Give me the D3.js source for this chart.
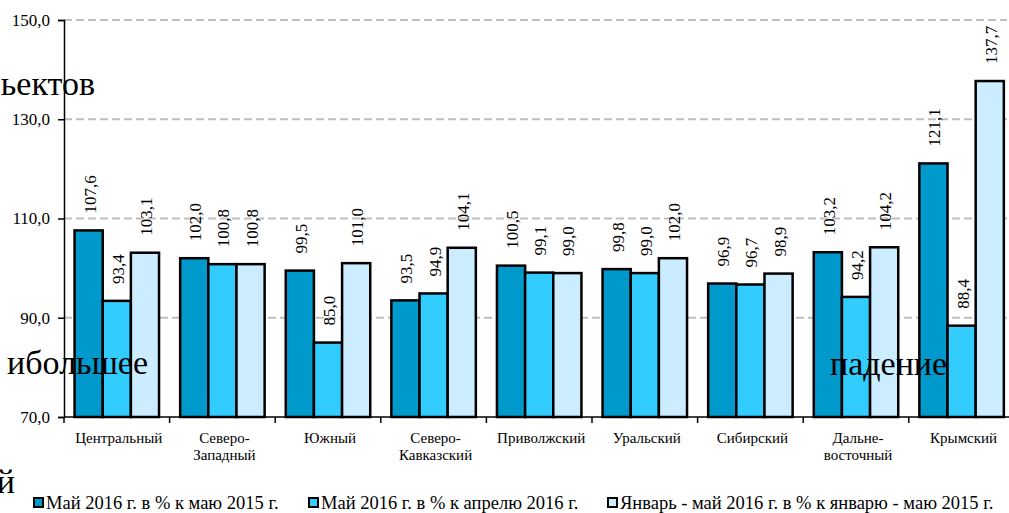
<!DOCTYPE html>
<html>
<head>
<meta charset="utf-8">
<script src="https://cdn.jsdelivr.net/npm/d3@7"></script>
<style>
  html, body { margin: 0; padding: 0; background: #fff; }
  svg { display: block; }
  text { font-family: "Liberation Serif", "Times New Roman", serif; fill: #000; }
</style>
</head>
<body>
<svg id="chart" width="1009" height="513"></svg>
<script>
// Federal districts (multi-line labels split with "\n")
const regions = [
  "Центральный", "Северо-\nЗападный", "Южный", "Северо-\nКавказский",
  "Приволжский", "Уральский", "Сибирский", "Дальне-\nвосточный", "Крымский"
];
const seriesNames = [
  "Май 2016 г. в % к маю 2015 г.",
  "Май 2016 г. в % к апрелю 2016 г.",
  "Январь - май 2016 г. в % к январю - маю 2015 г."
];
const mayVsMay = [107.6, 102.0, 99.5, 93.5, 100.5, 99.8, 96.9, 103.2, 121.1];
const mayVsApril = [93.4, 100.8, 85.0, 94.9, 99.1, 99.0, 96.7, 94.2, 88.4];
const janMayVsJanMay = [103.1, 100.8, 101.0, 104.1, 99.0, 102.0, 98.9, 104.2, 137.7];
const yTicks = [70, 90, 110, 130, 150];
const seriesColors = ["#0099CC", "#33CCFF", "#CCECFF"];

// Slide captions that sit over the chart area
const captions = [
  { text: "ьектов", x: 95, y: 95, anchor: "end" },
  { text: "ибольшее", x: 148, y: 374, anchor: "end" },
  { text: "падение", x: 830, y: 375, anchor: "start" },
  { text: "й", x: 15, y: 493, anchor: "end" }
];

const series = [mayVsMay, mayVsApril, janMayVsJanMay];

const svg = d3.select("#chart");
const plotLeft = 64, plotTop = 20, plotBottom = 417, plotRight = 1014.4;

const x0 = d3.scaleBand().domain(regions).range([plotLeft, plotRight])
  .paddingInner(0.2).paddingOuter(0.1);
const x1 = d3.scaleBand().domain(d3.range(series.length)).range([0, x0.bandwidth()]);
const y = d3.scaleLinear().domain([70, 150]).range([plotBottom, plotTop]);

// Dashed gridlines
svg.append("g").selectAll("line")
  .data(yTicks.filter(d => d > 70))
  .join("line")
  .attr("x1", plotLeft).attr("x2", 1007)
  .attr("y1", d => y(d)).attr("y2", d => y(d))
  .attr("stroke", "#BFBFBF").attr("stroke-width", 2)
  .attr("stroke-dasharray", "8,4");

// Bars
const groups = svg.append("g").selectAll("g")
  .data(regions)
  .join("g")
  .attr("transform", d => `translate(${x0(d)},0)`);

groups.selectAll("rect")
  .data((d, i) => series.map((s, k) => ({ k, v: s[i] })))
  .join("rect")
  .attr("x", d => x1(d.k))
  .attr("y", d => y(d.v))
  .attr("width", x1.bandwidth())
  .attr("height", d => y(70) - y(d.v))
  .attr("fill", d => seriesColors[d.k])
  .attr("stroke", "#000").attr("stroke-width", 2.5);

// Value labels, rotated
const fmt = v => v.toFixed(1).replace(".", ",");
groups.selectAll("text.val")
  .data((d, i) => series.map((s, k) => ({ k, v: s[i] })))
  .join("text")
  .attr("class", "val")
  .attr("transform", d => `translate(${x1(d.k) + x1.bandwidth() / 2 + 1},${y(d.v) - 17}) rotate(-90)`)
  .attr("dy", "0.35em")
  .attr("text-anchor", "start")
  .style("font-size", "17px")
  .text(d => fmt(d.v));

// Y axis
const yAxis = d3.axisLeft(y).tickValues(yTicks).tickSize(6).tickPadding(8)
  .tickFormat(d => fmt(d));
const gy = svg.append("g").attr("transform", `translate(${plotLeft},0)`).call(yAxis);
gy.select(".domain").attr("stroke", "#000").attr("stroke-width", 1.5);
gy.selectAll(".tick line").attr("stroke", "#000").attr("stroke-width", 1.5);
gy.selectAll(".tick text").style("font-size", "17px")
  .style("font-family", "'Liberation Serif', 'Times New Roman', serif");

// X axis with ticks on band boundaries
svg.append("line")
  .attr("x1", plotLeft).attr("x2", 1009)
  .attr("y1", plotBottom).attr("y2", plotBottom)
  .attr("stroke", "#000").attr("stroke-width", 1.5);
const step = x0.step();
svg.append("g").selectAll("line")
  .data(d3.range(regions.length + 1))
  .join("line")
  .attr("x1", i => plotLeft + i * step).attr("x2", i => plotLeft + i * step)
  .attr("y1", plotBottom).attr("y2", plotBottom + 6)
  .attr("stroke", "#000").attr("stroke-width", 1.5);

// Category labels
svg.append("g").selectAll("text")
  .data(regions)
  .join("text")
  .attr("x", d => x0(d) + x0.bandwidth() / 2 + 2)
  .attr("y", 443)
  .attr("text-anchor", "middle")
  .style("font-size", "15px")
  .each(function(d) {
    const t = d3.select(this);
    d.split("\n").forEach((line, i) => {
      t.append("tspan").attr("x", t.attr("x")).attr("dy", i ? 17 : 0).text(line);
    });
  });

// Legend
const legendX = [33, 308, 607];
const legend = svg.append("g").selectAll("g")
  .data(seriesNames)
  .join("g")
  .attr("transform", (d, i) => `translate(${legendX[i]},498)`);
legend.append("rect")
  .attr("x", 1).attr("y", 0).attr("width", 9).attr("height", 9)
  .attr("fill", (d, i) => seriesColors[i])
  .attr("stroke", "#000").attr("stroke-width", 2);
legend.append("text")
  .attr("x", 13).attr("y", 11)
  .style("font-size", "18.5px")
  .text(d => d);

// Captions
svg.append("g").selectAll("text")
  .data(captions)
  .join("text")
  .attr("x", d => d.x).attr("y", d => d.y)
  .attr("text-anchor", d => d.anchor)
  .style("font-size", "34px")
  .text(d => d.text);
</script>
</body>
</html>
